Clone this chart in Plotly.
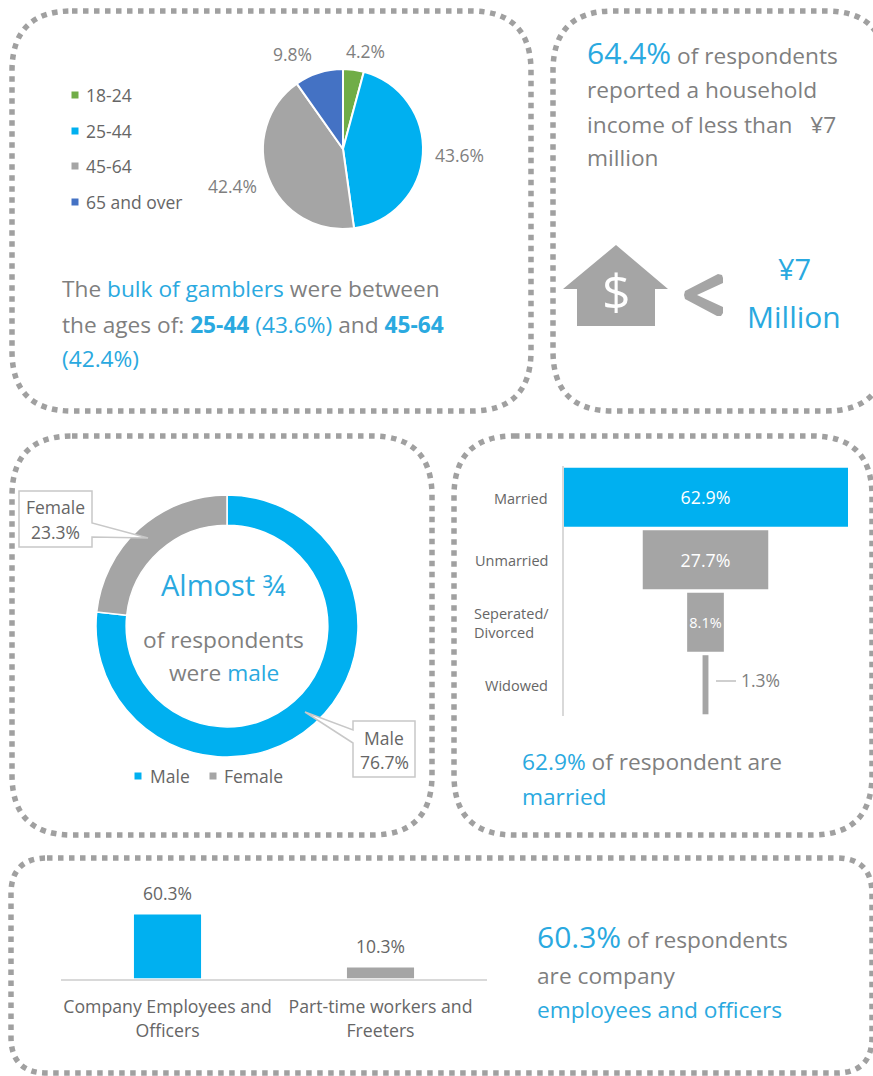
import plotly.graph_objects as go

W, H = 873, 1076
BLUE = "#00B0F0"
TXT_BLUE = "#2AA9E0"
GREY = "#A5A5A5"
TXT = "#7F7F7F"
DARK = "#666666"
FONT = "Open Sans"
BODY = 22.7

# Age groups
age_labels = ["18-24", "25-44", "45-64", "65 and over"]
age_values = [4.2, 43.6, 42.4, 9.8]
age_colors = ["#70AD47", BLUE, GREY, "#4472C4"]

# Gender split
gender_labels = ["Male", "Female"]
gender_values = [76.7, 23.3]
gender_colors = [BLUE, GREY]

# Marital status
marital_labels = ["Married", "Unmarried", "Seperated/<br>Divorced", "Widowed"]
marital_values = [62.9, 27.7, 8.1, 1.3]
marital_colors = [BLUE, GREY, GREY, GREY]

# Employment type
job_labels = ["Company Employees and<br>Officers", "Part-time workers and<br>Freeters"]
job_values = [60.3, 10.3]
job_colors = [BLUE, GREY]


def px(x):
    return x / W


def py(y):
    return 1 - y / H


def blue(s):
    return f'<span style="color:{TXT_BLUE}">{s}</span>'


def big(s):
    return f'<span style="font-size:30px">{s}</span>'


annotations = []
shapes = []


def label(x, y, html, size=BODY, color=TXT, anchor="left"):
    # annotations carry a small inner pad, so nudge the anchor to sit on the requested edge
    dx = {"left": -2, "right": 1, "center": 0}[anchor]
    annotations.append(dict(
        x=px(x + dx), y=py(y), xref="paper", yref="paper", text=html, showarrow=False,
        xanchor=anchor, yanchor="middle", align=anchor,
        font=dict(family=FONT, size=size, color=color),
    ))


def panel(x0, y0, x1, y1, r):
    p = (f"M{px(x0 + r)},{py(y0)} L{px(x1 - r)},{py(y0)} "
         f"Q{px(x1)},{py(y0)} {px(x1)},{py(y0 + r)} L{px(x1)},{py(y1 - r)} "
         f"Q{px(x1)},{py(y1)} {px(x1 - r)},{py(y1)} L{px(x0 + r)},{py(y1)} "
         f"Q{px(x0)},{py(y1)} {px(x0)},{py(y1 - r)} L{px(x0)},{py(y0 + r)} "
         f"Q{px(x0)},{py(y0)} {px(x0 + r)},{py(y0)} Z")
    shapes.append(dict(type="path", xref="paper", yref="paper", path=p,
                       line=dict(color="#A0A0A0", width=5.5, dash="5.5px,5.5px"), layer="below"))


def poly(points, fill=None, line=None, width=1, close=True, **kw):
    d = "M" + " L".join(f"{px(a)},{py(b)}" for a, b in points) + (" Z" if close else "")
    shapes.append(dict(type="path", xref="paper", yref="paper", path=d,
                       fillcolor=fill or "rgba(0,0,0,0)",
                       line=dict(color=line or "rgba(0,0,0,0)", width=width), **kw))


def swatch(x, y, color, s=7):
    shapes.append(dict(type="rect", xref="paper", yref="paper",
                       x0=px(x - s / 2), x1=px(x + s / 2), y0=py(y + s / 2), y1=py(y - s / 2),
                       fillcolor=color, line=dict(width=0)))


panel(12, 11, 531, 411, 60)
panel(553, 11, 886, 411, 60)
panel(12, 436, 432, 835, 60)
panel(454, 436, 872, 835, 60)
panel(11, 858, 872, 1073, 36)

fig = go.Figure()

# Age pie
fig.add_trace(go.Pie(
    labels=age_labels, values=age_values, sort=False, direction="clockwise", rotation=0,
    marker=dict(colors=age_colors, line=dict(color="white", width=2)),
    textinfo="none", showlegend=False,
    domain=dict(x=[px(263), px(423)], y=[py(229), py(69)]),
))
age_label_pos = [(365, 51), (459, 155), (232, 186), (292, 54)]
for (x, y), v in zip(age_label_pos, age_values):
    label(x, y, f"{v}%", size=17.5, anchor="center")
for y, name, color in zip([95, 131, 166, 202], age_labels, age_colors):
    swatch(75, y, color)
    label(86, y, name, size=17.5, color=DARK)
label(62, 289, f"The {blue('bulk of gamblers')} were between")
label(62, 325, f"the ages of: {blue('<b>25-44</b> (43.6%)')} and {blue('<b>45-64</b>')}")
label(62, 358, blue("(42.4%)"))

# Household income panel
label(587, 52, f"{blue(big('64.4%'))} of respondents")
label(587, 89, "reported a household")
label(587, 124, "income of less than&#160;&#160; ¥7")
label(587, 158, "million")
poly([(616, 245), (668, 289), (655, 289), (655, 326), (577, 326), (577, 289), (563, 289)], fill=GREY)
label(616, 291, "$", size=50, color="white", anchor="center")
poly([(685, 291), (718, 274), (722, 275), (723, 278), (723, 283), (697, 295), (723, 307),
      (723, 313), (721, 316), (717, 316), (685, 299), (684, 295)], fill=GREY)
label(794, 268, "¥7", size=29, color=TXT_BLUE, anchor="center")
label(794, 317, "Million", size=30, color=TXT_BLUE, anchor="center")

# Gender donut
fig.add_trace(go.Pie(
    labels=gender_labels, values=gender_values, sort=False, direction="clockwise", rotation=0,
    hole=0.77, marker=dict(colors=gender_colors, line=dict(color="white", width=1.5)),
    textinfo="none", showlegend=False,
    domain=dict(x=[px(96), px(358)], y=[py(757), py(495)]),
))
poly([(19, 491), (92, 491), (92, 523), (148, 538), (92, 537), (92, 547), (19, 547)],
     fill="white", line="#C8C8C8", width=1.5)
poly([(353, 721), (415, 721), (415, 777), (353, 777), (353, 743), (305, 712), (353, 730)],
     fill="white", line="#C8C8C8", width=1.5)
label(56, 507, gender_labels[1], size=17.5, color=DARK, anchor="center")
label(56, 532, f"{gender_values[1]}%", size=17.5, color=DARK, anchor="center")
label(384, 738, gender_labels[0], size=17.5, color=DARK, anchor="center")
label(384, 762, f"{gender_values[0]}%", size=17.5, color=DARK, anchor="center")
label(224, 584, "Almost ¾", size=29, color=TXT_BLUE, anchor="center")
label(224, 639, "of respondents", anchor="center")
label(224, 672, f"were {blue('male')}", anchor="center")
swatch(138, 776, BLUE)
swatch(213, 776, GREY)
label(150, 776, gender_labels[0], size=17.5, color=DARK)
label(224, 776, gender_labels[1], size=17.5, color=DARK)

# Marital status funnel, bars centred on zero
half = [v / 2 for v in marital_values]
fig.add_trace(go.Bar(
    y=marital_labels, x=marital_values, base=[-h for h in half], orientation="h",
    marker=dict(color=marital_colors, line=dict(width=0)), width=0.945,
    text=[f"{v}%" for v in marital_values[:3]] + [""],
    textposition="inside", insidetextanchor="middle", constraintext="none", textangle=0,
    textfont=dict(family=FONT, size=[17.8, 17.8, 14.5, 12], color="white"),
    hoverinfo="x+y", xaxis="x", yaxis="y", showlegend=False,
))
for y, name in zip([498, 560, None, 685], marital_labels):
    if y is not None:
        label(549, y, name, size=14.5, color=DARK, anchor="right")
a, b = marital_labels[2].split("<br>")
label(474, 613, a, size=14.5, color=DARK)
label(474, 632, b, size=14.5, color=DARK)
poly([(716, 681), (736, 681)], line="#BFBFBF", width=1.5, close=False)
label(741, 680, f"{marital_values[3]}%", size=17.5)
label(522, 761, f"{blue('62.9%')} of respondent are")
label(522, 796, blue("married"))

# Employment bars
fig.add_trace(go.Bar(
    x=job_labels, y=job_values,
    marker=dict(color=job_colors, line=dict(width=0)), width=0.315,
    xaxis="x2", yaxis="y2", showlegend=False,
))
for name, v in zip(job_labels, job_values):
    annotations.append(dict(
        x=name, y=v, xref="x2", yref="y2", text=f"{v}%", showarrow=False,
        xanchor="center", yanchor="bottom", yshift=8,
        font=dict(family=FONT, size=17.5, color=DARK),
    ))
label(537, 936, f"{blue(big('60.3%'))} of respondents")
label(537, 975, "are company")
label(537, 1009, blue("employees and officers"))

fig.update_layout(
    width=W, height=H, margin=dict(l=0, r=0, t=0, b=0, pad=0, autoexpand=False),
    paper_bgcolor="white", plot_bgcolor="rgba(0,0,0,0)", autosize=False,
    shapes=shapes, annotations=annotations,
    barmode="overlay", showlegend=False,
    xaxis=dict(domain=[px(563), px(848)], range=[-31.45, 31.45], visible=False, fixedrange=True),
    yaxis=dict(domain=[py(716), py(466)], autorange="reversed", showticklabels=False,
               ticks="", showgrid=False, zeroline=False, showline=True,
               linecolor="#D9D9D9", linewidth=1.5, anchor="free", position=px(563)),
    xaxis2=dict(domain=[px(61), px(487)], anchor="y2", showline=True, linecolor="#D9D9D9",
                linewidth=1.5, ticks="outside", ticklen=12, tickcolor="rgba(0,0,0,0)", showgrid=False,
                tickfont=dict(family=FONT, size=17.7, color=DARK)),
    yaxis2=dict(domain=[py(978.5), py(900)], range=[0, 74], visible=False, anchor="x2"),
)

fig.write_html("out.html")
